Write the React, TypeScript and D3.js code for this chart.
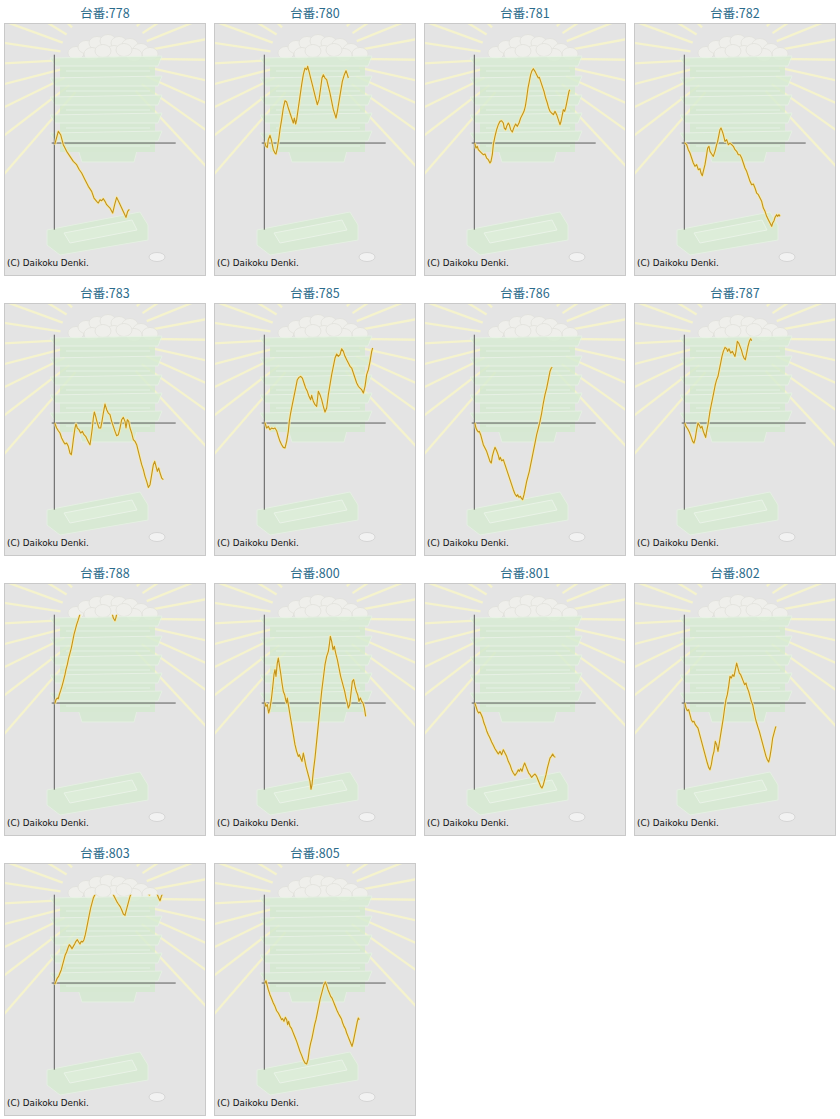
import React from "react";
import * as d3 from "d3";

type Pt = [number, number];

// machine numbers, one panel each
const machines = ["778", "780", "781", "782", "783", "785", "786", "787", "788", "800", "801", "802", "803", "805"];

// [games, balls difference]
const s778: Pt[] = [[0,0],[20,-20],[120,350],[190,250],[270,-50],[370,-250],[470,-400],[570,-550],[670,-650],[750,-800],[820,-900],[920,-1100],[1020,-1300],[1120,-1450],[1190,-1650],[1270,-1750],[1320,-1800],[1370,-1700],[1420,-1730],[1470,-1670],[1520,-1750],[1570,-1850],[1670,-1950],[1750,-2100],[1810,-1850],[1870,-1630],[1950,-1800],[2020,-1950],[2090,-2100],[2150,-2230],[2200,-2050],[2250,-1990]];
const s780: Pt[] = [[0,0],[20,0],[50,-100],[90,-130],[120,100],[170,230],[210,100],[240,-50],[270,-200],[320,-300],[350,-330],[390,-150],[430,100],[470,400],[520,700],[570,1050],[620,1270],[670,1230],[720,1050],[770,900],[820,750],[870,600],[900,750],[940,570],[970,700],[1020,1050],[1070,1400],[1120,1750],[1170,2050],[1220,2250],[1270,2200],[1300,2300],[1340,2150],[1390,1950],[1440,1750],[1490,1550],[1540,1350],[1590,1150],[1640,1300],[1690,1650],[1730,1950],[1770,2050],[1820,1950],[1870,1900],[1920,1700],[1970,1500],[2020,1250],[2070,1000],[2120,850],[2150,750],[2190,950],[2240,1250],[2290,1550],[2340,1850],[2400,2050],[2450,2170],[2490,2050],[2520,1950]];
const s781: Pt[] = [[0,0],[20,-30],[50,-150],[90,-100],[120,-200],[170,-250],[220,-300],[270,-350],[320,-330],[370,-450],[420,-500],[470,-600],[500,-550],[540,-350],[570,-50],[620,200],[670,400],[720,550],[770,650],[820,670],[870,600],[900,450],[940,400],[970,500],[1020,600],[1050,550],[1090,400],[1140,330],[1190,470],[1240,570],[1290,500],[1340,600],[1390,750],[1440,850],[1490,950],[1530,1100],[1570,1350],[1610,1650],[1650,1850],[1690,2050],[1730,2170],[1770,2230],[1820,2150],[1870,2050],[1920,1950],[1950,1970],[1990,1850],[2040,1700],[2090,1550],[2140,1350],[2190,1200],[2230,1050],[2270,950],[2320,900],[2370,850],[2420,950],[2470,850],[2520,700],[2570,550],[2600,650],[2640,850],[2670,1000],[2710,950],[2750,1100],[2790,1300],[2840,1550],[2860,1600]];
const s782: Pt[] = [[0,0],[20,0],[70,-50],[120,-200],[170,-300],[220,-450],[270,-600],[320,-700],[370,-650],[420,-800],[470,-770],[500,-900],[540,-980],[570,-850],[620,-650],[670,-350],[700,-150],[740,-100],[770,-250],[820,-330],[870,-400],[920,-250],[970,-50],[1000,50],[1040,250],[1070,400],[1100,450],[1140,350],[1170,250],[1220,50],[1270,100],[1320,-50],[1370,0],[1420,-50],[1470,-100],[1520,-200],[1570,-250],[1620,-350],[1670,-350],[1720,-450],[1770,-600],[1820,-750],[1870,-850],[1920,-1000],[1970,-1150],[2020,-1250],[2070,-1230],[2120,-1350],[2170,-1500],[2220,-1550],[2270,-1650],[2320,-1750],[2370,-1950],[2420,-2050],[2470,-2200],[2520,-2300],[2570,-2400],[2620,-2500],[2650,-2400],[2690,-2330],[2720,-2230],[2770,-2150],[2800,-2200],[2840,-2150],[2870,-2200]];
const s783: Pt[] = [[0,0],[20,-20],[70,-150],[120,-230],[170,-300],[220,-450],[270,-550],[320,-630],[370,-600],[420,-700],[470,-900],[510,-950],[540,-750],[570,-500],[620,-150],[650,-30],[690,-150],[740,-200],[790,-300],[840,-250],[890,-350],[940,-400],[990,-500],[1040,-600],[1070,-650],[1100,-450],[1140,-150],[1170,150],[1200,330],[1240,200],[1290,0],[1340,-150],[1390,-150],[1430,50],[1470,300],[1520,570],[1570,400],[1620,300],[1670,250],[1720,50],[1770,-100],[1820,-250],[1870,-380],[1920,-350],[1970,-150],[2020,100],[2070,170],[2120,50],[2150,-150],[2190,100],[2230,50],[2270,-150],[2320,-300],[2370,-500],[2420,-550],[2470,-650],[2520,-850],[2570,-1050],[2620,-1250],[2670,-1400],[2720,-1600],[2770,-1750],[2820,-1930],[2870,-1850],[2920,-1550],[2970,-1250],[3010,-1150],[3050,-1300],[3090,-1450],[3130,-1350],[3170,-1500],[3220,-1650],[3270,-1700]];
const s785: Pt[] = [[0,0],[20,0],[70,-150],[120,-100],[170,-200],[220,-150],[270,-170],[320,-150],[370,-230],[420,-400],[470,-550],[520,-650],[570,-730],[620,-750],[670,-550],[720,-250],[750,50],[790,300],[840,550],[890,800],[940,1050],[990,1300],[1040,1370],[1090,1400],[1140,1350],[1190,1200],[1240,1050],[1290,950],[1340,800],[1390,700],[1420,830],[1470,650],[1520,550],[1570,500],[1620,950],[1670,850],[1720,700],[1770,500],[1820,330],[1870,450],[1920,850],[1970,1150],[2020,1450],[2070,1700],[2120,1950],[2170,2070],[2220,2000],[2270,2050],[2320,2230],[2370,2150],[2420,2000],[2470,1900],[2520,1800],[2570,1700],[2620,1650],[2670,1500],[2720,1350],[2770,1200],[2820,1100],[2870,1050],[2920,1000],[2970,900],[3020,1100],[3070,1450],[3120,1600],[3170,1850],[3220,2150],[3250,2250]];
const s786: Pt[] = [[0,0],[20,-20],[50,-150],[90,-230],[120,-270],[150,-250],[190,-350],[230,-500],[270,-650],[320,-750],[370,-850],[420,-1000],[470,-1150],[510,-1200],[540,-1000],[580,-850],[620,-730],[670,-830],[720,-970],[750,-1100],[780,-1030],[820,-1130],[870,-1100],[920,-1250],[970,-1400],[1020,-1550],[1070,-1700],[1120,-1850],[1170,-2000],[1220,-2130],[1270,-2200],[1300,-2150],[1340,-2230],[1380,-2200],[1420,-2270],[1450,-2300],[1490,-2150],[1530,-1950],[1570,-1750],[1610,-1600],[1650,-1450],[1690,-1250],[1730,-1050],[1770,-850],[1820,-600],[1870,-350],[1920,-150],[1970,50],[2020,300],[2070,600],[2120,850],[2170,1050],[2200,1200],[2230,1350],[2270,1550],[2310,1650],[2340,1670]];
const s787: Pt[] = [[0,0],[20,-20],[50,-100],[100,-170],[150,-270],[200,-400],[250,-550],[290,-600],[330,-450],[370,-200],[410,0],[450,-70],[490,-150],[530,-100],[570,-250],[610,-350],[640,-430],[670,-250],[710,-50],[740,150],[770,350],[810,550],[850,750],[890,950],[930,1150],[970,1300],[1010,1400],[1050,1600],[1090,1800],[1130,2000],[1170,2150],[1220,2270],[1270,2230],[1300,2150],[1340,2230],[1390,2100],[1440,2150],[1480,2070],[1520,2000],[1550,2150],[1590,2450],[1630,2400],[1670,2300],[1710,2200],[1750,2050],[1790,1950],[1830,1900],[1870,2100],[1910,2300],[1950,2450],[1990,2530],[2020,2470]];
const s788: Pt[] = [[0,0],[20,0],[50,100],[90,150],[120,130],[150,250],[190,370],[230,500],[270,650],[320,850],[350,1000],[390,1150],[430,1350],[470,1500],[510,1650],[550,1850],[590,2050],[630,2200],[670,2350],[710,2470],[750,2600],[770,2670],[970,3200],[1270,3500],[1570,3100],[1720,2750],[1770,2550],[1820,2470],[1850,2570],[1890,2750],[2070,3100]];
const s800: Pt[] = [[0,0],[20,0],[50,-100],[90,-50],[130,-300],[170,-150],[210,100],[250,450],[290,850],[320,1000],[350,800],[390,1200],[420,1350],[450,1150],[490,900],[530,600],[570,350],[610,250],[640,100],[670,0],[690,150],[720,-50],[770,-350],[820,-650],[870,-950],[920,-1250],[970,-1450],[1020,-1600],[1050,-1550],[1090,-1650],[1130,-1750],[1170,-1500],[1210,-1700],[1250,-1900],[1290,-2050],[1330,-2200],[1370,-2350],[1400,-2600],[1430,-2450],[1470,-2050],[1520,-1650],[1570,-1150],[1620,-650],[1670,-150],[1720,350],[1770,750],[1820,1150],[1870,1400],[1920,1550],[1950,1750],[1980,2000],[2020,1850],[2060,1600],[2100,1700],[2140,1500],[2190,1300],[2240,1050],[2290,800],[2330,650],[2370,500],[2410,350],[2450,150],[2490,0],[2520,-150],[2560,-50],[2600,300],[2640,650],[2680,700],[2720,500],[2760,350],[2800,250],[2840,50],[2880,150],[2920,50],[2960,0],[3000,-150],[3040,-400]];
const s801: Pt[] = [[0,0],[20,-20],[50,-100],[90,-230],[130,-300],[170,-270],[210,-350],[250,-450],[290,-600],[330,-700],[370,-830],[420,-950],[470,-1050],[520,-1170],[570,-1270],[620,-1370],[670,-1450],[720,-1530],[770,-1450],[820,-1550],[870,-1400],[920,-1500],[970,-1600],[1020,-1750],[1070,-1850],[1120,-2000],[1170,-2100],[1220,-2170],[1270,-2100],[1320,-2000],[1350,-2050],[1390,-1970],[1430,-2050],[1470,-1900],[1510,-1800],[1550,-1900],[1590,-2000],[1630,-2100],[1670,-2150],[1720,-2230],[1770,-2170],[1820,-2130],[1870,-2200],[1910,-2300],[1950,-2400],[1990,-2500],[2030,-2550],[2070,-2450],[2110,-2300],[2150,-2150],[2190,-1950],[2230,-1800],[2270,-1650],[2310,-1600],[2350,-1530],[2390,-1600],[2430,-1630]];
const s802: Pt[] = [[0,0],[20,-20],[50,-150],[90,-230],[130,-200],[170,-350],[210,-500],[250,-570],[290,-550],[330,-650],[370,-700],[410,-750],[450,-900],[490,-1050],[530,-1200],[570,-1350],[610,-1500],[650,-1650],[690,-1800],[730,-1930],[770,-2000],[810,-1850],[850,-1600],[890,-1450],[930,-1150],[970,-1250],[1010,-1450],[1050,-1200],[1090,-950],[1130,-700],[1170,-450],[1210,-150],[1250,100],[1290,250],[1330,500],[1370,800],[1410,750],[1450,850],[1490,800],[1530,1000],[1570,1200],[1610,1050],[1650,900],[1690,850],[1730,750],[1770,650],[1810,550],[1850,600],[1890,450],[1930,350],[1970,200],[2010,50],[2050,-50],[2090,-250],[2130,-450],[2170,-600],[2210,-730],[2250,-850],[2290,-1000],[2330,-1150],[2370,-1300],[2410,-1450],[2450,-1600],[2490,-1700],[2530,-1770],[2570,-1600],[2610,-1350],[2650,-1050],[2690,-900],[2730,-750],[2750,-700]];
const s803: Pt[] = [[0,0],[20,-20],[50,50],[90,150],[130,200],[170,300],[210,400],[250,550],[290,700],[330,850],[370,930],[410,1050],[450,1150],[490,1100],[530,1030],[570,1100],[610,1170],[650,1250],[690,1300],[730,1230],[770,1170],[810,1250],[850,1230],[890,1300],[930,1450],[970,1650],[1010,1850],[1050,2050],[1090,2250],[1130,2400],[1170,2550],[1210,2630],[1370,3000],[1570,3100],[1720,2800],[1770,2650],[1820,2550],[1870,2450],[1920,2370],[1970,2300],[2020,2200],[2070,2070],[2120,2030],[2150,2150],[2190,2300],[2230,2450],[2270,2600],[2290,2650],[2470,3000],[2670,2900],[2850,2640],[2920,2800],[3020,2750],[3090,2650],[3130,2550],[3170,2470],[3210,2600],[3230,2650],[3290,2800]];
const s805: Pt[] = [[0,0],[20,0],[50,70],[80,-50],[120,-200],[170,-350],[220,-470],[270,-600],[320,-700],[370,-830],[420,-900],[470,-1000],[520,-1100],[550,-1070],[590,-1150],[630,-1030],[670,-1100],[700,-1250],[730,-1150],[770,-1300],[810,-1350],[850,-1450],[890,-1550],[930,-1650],[970,-1750],[1020,-1900],[1070,-2050],[1120,-2170],[1170,-2300],[1220,-2400],[1270,-2430],[1310,-2300],[1350,-2000],[1390,-1800],[1430,-1650],[1470,-1450],[1510,-1250],[1550,-1100],[1590,-900],[1630,-700],[1670,-500],[1710,-350],[1750,-200],[1790,-50],[1830,30],[1870,-70],[1910,-200],[1950,-300],[1990,-400],[2030,-450],[2070,-550],[2110,-650],[2150,-750],[2190,-850],[2230,-930],[2270,-1000],[2310,-1070],[2350,-1200],[2390,-1300],[2430,-1370],[2470,-1500],[2510,-1600],[2550,-1700],[2590,-1800],[2630,-1900],[2670,-1750],[2710,-1550],[2750,-1350],[2790,-1150],[2820,-1050],[2850,-1100]];

const series = [s778, s780, s781, s782, s783, s785, s786, s787, s788, s800, s801, s802, s803, s805];

const W = 840;
const H = 1119;
const COLS = 4;
const PW = 202;
const PH = 253;

const x = d3.scaleLinear().domain([0, 3640]).range([50.3, 171.7]);
const y = d3.scaleLinear().domain([-2600, 2650]).range([206.7, 31.7]);
const line = d3.line<Pt>().x((d) => x(d[0])).y((d) => y(d[1]));

// decorative picture behind each graph
const rayCenter = [101, 35];
const rays = d3.range(131, 410, 11.5).map((a) => {
	const r = (a * Math.PI) / 180;
	return [
		rayCenter[0] + 45 * Math.cos(r),
		rayCenter[1] + 45 * Math.sin(r),
		rayCenter[0] + 230 * Math.cos(r),
		rayCenter[1] + 230 * Math.sin(r),
	];
});
const trayTops = [34, 54, 73, 91, 109];
const balls = [[72, 30], [82, 24], [93, 20], [104, 18], [115, 20], [126, 22], [137, 27], [146, 31], [88, 31], [110, 29], [130, 32], [99, 28], [120, 27]];

const Backdrop = () => (
	<g id="backdrop">
		<rect x={0} y={0} width={PW} height={PH} fill="#e4e4e4" />
		<g clipPath="url(#panelClip)">
			{rays.map((r, i) => (
				<line key={i} x1={r[0]} y1={r[1]} x2={r[2]} y2={r[3]} stroke="#f5f3cd" strokeWidth={2.3} />
			))}
		</g>
		{balls.map((b, i) => (
			<ellipse key={i} cx={b[0]} cy={b[1]} rx={8} ry={6.5} fill="#efefeb" stroke="#e0e0da" strokeWidth={0.7} />
		))}
		<g opacity={0.8}>
			<path d="M71,117 L136,117 L130,139 L78,139 Z" fill="#d5ead1" stroke="#e6f2e3" />
			{trayTops.map((t, i) => (
				<g key={i}>
					<rect x={56} y={t + 8} width={95} height={12} fill="#d3e9ce" />
					<path d={`M46,${t + 1} L158,${t - 1} L154,${t + 9} L51,${t + 9} Z`} fill="#d7ecd3" stroke="#e8f4e5" strokeWidth={1} />
					<line x1={62} y1={t + 14} x2={146} y2={t + 14} stroke="#e6f3e3" strokeWidth={1.2} />
				</g>
			))}
		</g>
		<g opacity={0.85}>
			<path d="M43,207 L136,189 L144,202 L144,217 L56,232 L43,222 Z" fill="#d6ead2" stroke="#e6f2e3" />
			<path d="M60,210 L128,197 L133,207 L66,220 Z" fill="#dcefd8" stroke="#ebf6e8" />
		</g>
		<ellipse cx={153} cy={234} rx={8} ry={4.5} fill="#f2f2f2" stroke="#cfcfcf" strokeWidth={0.8} />
	</g>
);

export default function App() {
	return (
		<svg width={W} height={H} style={{ position: "absolute", left: 0, top: 0, background: "#fff" }}>
			<defs>
				<clipPath id="panelClip">
					<rect x={0} y={0} width={PW} height={PH} />
				</clipPath>
				<clipPath id="plotClip">
					<rect x={x(0)} y={y(2650)} width={x(3640) - x(0)} height={y(-2600) - y(2650)} />
				</clipPath>
				<Backdrop />
			</defs>
			{machines.map((m, i) => {
				const ox = 4 + (i % COLS) * 210;
				const oy = 23 + Math.floor(i / COLS) * 280;
				const d = line(series[i]) || "";
				return (
					<g key={m} transform={`translate(${ox},${oy})`}>
						<text x={PW / 2} y={-5} textAnchor="middle" fontFamily="'Noto Sans CJK JP', sans-serif" fontSize={12.5} fill="#2b6b8b">
							{`台番:${m}`}
						</text>
						<use href="#backdrop" />
						<rect x={0.5} y={0.5} width={PW - 1} height={PH - 1} fill="none" stroke="#c9c9c9" />
						<line x1={x(0)} y1={y(2650)} x2={x(0)} y2={y(-2600)} stroke="#5a5a5a" />
						<line x1={x(0) - 2.6} y1={y(0)} x2={x(3640)} y2={y(0)} stroke="#5a5a5a" />
						<g clipPath="url(#plotClip)">
							<path d={d} fill="none" stroke="#f8eba8" strokeWidth={3} strokeOpacity={0.85} strokeLinejoin="round" />
							<path d={d} fill="none" stroke="#c3931b" strokeWidth={1.1} strokeLinejoin="round" />
						</g>
						<text x={3} y={243} fontFamily="'DejaVu Sans', sans-serif" fontSize={8.8} fill="#111">
							(C) Daikoku Denki.
						</text>
					</g>
				);
			})}
		</svg>
	);
}
